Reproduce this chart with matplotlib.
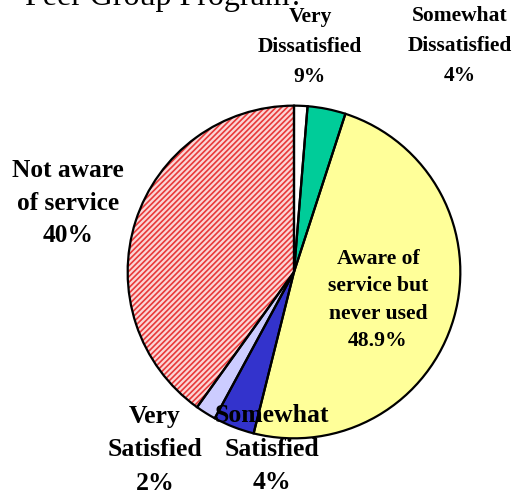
"""
Pie chart: awareness and satisfaction with the Peer Group Program.
"""

import matplotlib.pyplot as plt

categories = ["Very Dissatisfied", "Somewhat Dissatisfied",
              "Aware of service but never used", "Somewhat Satisfied",
              "Very Satisfied", "Not aware of service"]
values = [1.3, 3.7, 48.9, 4.0, 2.0, 40.1]
label_texts = ["Very\nDissatisfied\n9%", "Somewhat\nDissatisfied\n4%",
               "Aware of\nservice but\nnever used\n48.9%",
               "Somewhat\nSatisfied\n4%", "Very\nSatisfied\n2%",
               "Not aware\nof service\n40%"]
colors = ["#FFFFFF", "#00CC99", "#FFFF99", "#3333CC", "#CCCCFF", "#FBD6D6"]

W, H = 527, 496
fig = plt.figure(figsize=(W / 100, H / 100), dpi=100)

# pie centre (294, 272) px from top-left, radius 168 px
cx, cy, r = 294, 272, 168
ax = fig.add_axes([(cx - r) / W, (H - cy - r) / H, 2 * r / W, 2 * r / H])

# fill layer (hatch for the "not aware" slice drawn in red)
plt.rcParams["hatch.linewidth"] = 1.2
wedges, _ = ax.pie(values, colors=colors, startangle=90, counterclock=False,
                   wedgeprops=dict(linewidth=0))
wedges[-1].set_hatch("//////")
wedges[-1].set_edgecolor("#E83A3A")
# outline layer
ax.pie(values, colors=["none"] * len(values), startangle=90, counterclock=False,
       wedgeprops=dict(linewidth=1.6, edgecolor="black", fill=False))
ax.set_xlim(-1.01, 1.01)
ax.set_ylim(-1.01, 1.01)
ax.set_aspect("equal")
ax.axis("off")

# label positions (px, centre of text block), sizes and line spacing
label_pos = [(310, 47), (460, 46), (378, 300), (272, 449), (155, 450), (68, 203)]
label_size = [15.5, 15.5, 15.6, 18.5, 18.5, 18.3]
label_gap = [1.68, 1.68, 1.5, 1.58, 1.58, 1.55]
for txt, (x, y), s, g in zip(label_texts, label_pos, label_size, label_gap):
    fig.text(x / W, 1 - y / H, txt, ha="center", va="center",
             multialignment="center", fontsize=s, fontweight="bold",
             family="Liberation Serif", linespacing=g)

fig.text(25 / W, 1 - 5 / H, "Peer Group Program?", ha="left", va="baseline",
         fontsize=23, family="Liberation Serif")

fig.savefig("out.png", dpi=100)
